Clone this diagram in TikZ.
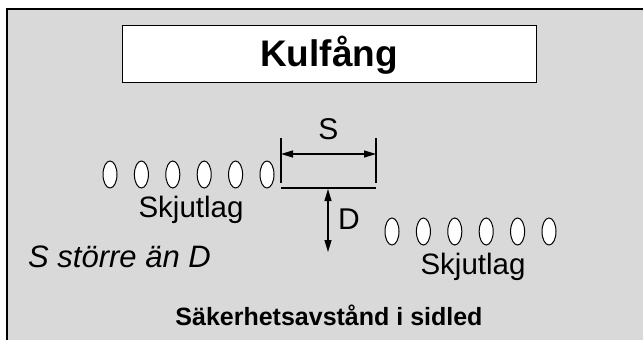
\documentclass[tikz,border=0pt]{standalone}
\usepackage{fontspec}
\setmainfont{Liberation Sans}
\usetikzlibrary{arrows.meta}
\definecolor{panelgray}{RGB}{217,217,217}

\tikzset{
  oval/.style={draw=black, fill=white, line width=1pt},
  dimline/.style={line width=1.2pt},
  dimarrow/.style={line width=1.2pt, {Triangle[length=12pt,width=7pt]}-{Triangle[length=12pt,width=7pt]}},
  lbl/.style={inner sep=0pt, anchor=base, font=\fontsize{29.5}{29.5}\selectfont},
}

\begin{document}
\begin{tikzpicture}[x=1pt,y=1pt,yscale=-1,xscale=1]
		\useasboundingbox (0,0) rectangle (643,340);

		% Grey panel, right and bottom edges run off the page
		\fill[panelgray] (7,9) rectangle (660,360);
		\draw[line width=2pt] (7,360) -- (7,9) -- (660,9);

		% Title box
		\node[draw, fill=white, line width=1pt, minimum width=414pt, minimum height=57pt, inner sep=0pt] (titlebox) at (329,53.5) {};
		\node[lbl, font=\fontsize{37}{37}\selectfont\bfseries] (title) at (329,66) {Kulfång};

		% Left group of shots
		\foreach \x in {110,141.4,172.8,204.2,235.6,267}
			\draw[oval] (\x,174.5) ellipse (7 and 13.5);
		\node[lbl] (leftlag) at (191,217) {Skjutlag};

		% Right group of shots
		\foreach \x in {392,423.4,454.8,486.2,517.6,549}
			\draw[oval] (\x,231.5) ellipse (7 and 13.5);
		\node[lbl] (rightlag) at (473,274) {Skjutlag};

		% Dimension S (side gap)
		\coordinate (gapLtop) at (281,138);
		\coordinate (gapLbot) at (281,183);
		\coordinate (gapRtop) at (376,138);
		\coordinate (gapRbot) at (376,183);
		\draw[dimline] (gapLtop) -- (gapLbot);
		\draw[dimline] (gapRtop) -- (gapRbot);
		\coordinate (sArrowL) at (281,154);
		\coordinate (sArrowR) at (376,154);
		\draw[dimarrow] (sArrowL) -- (sArrowR);
		\node[lbl, font=\fontsize{30}{30}\selectfont] (slabel) at (328.5,139) {S};

		% Dimension D (depth)
		\coordinate (baseL) at (281,188);
		\coordinate (baseR) at (376,188);
		\draw[dimline] (baseL) -- (baseR);
		\coordinate (dTop) at (328,189);
		\coordinate (dBot) at (328,252);
		\draw[dimarrow] (dTop) -- (dBot);
		\node[lbl, anchor=base west, font=\fontsize{30}{30}\selectfont] (dlabel) at (338,229) {D};

		% Notes
		\node[lbl, anchor=base west, font=\fontsize{31}{31}\selectfont\itshape] (rule) at (28,267) {S större än D};
		\node[lbl, font=\fontsize{25}{25}\selectfont\bfseries] (caption) at (329,325) {Säkerhetsavstånd i sidled};
\end{tikzpicture}
\end{document}
